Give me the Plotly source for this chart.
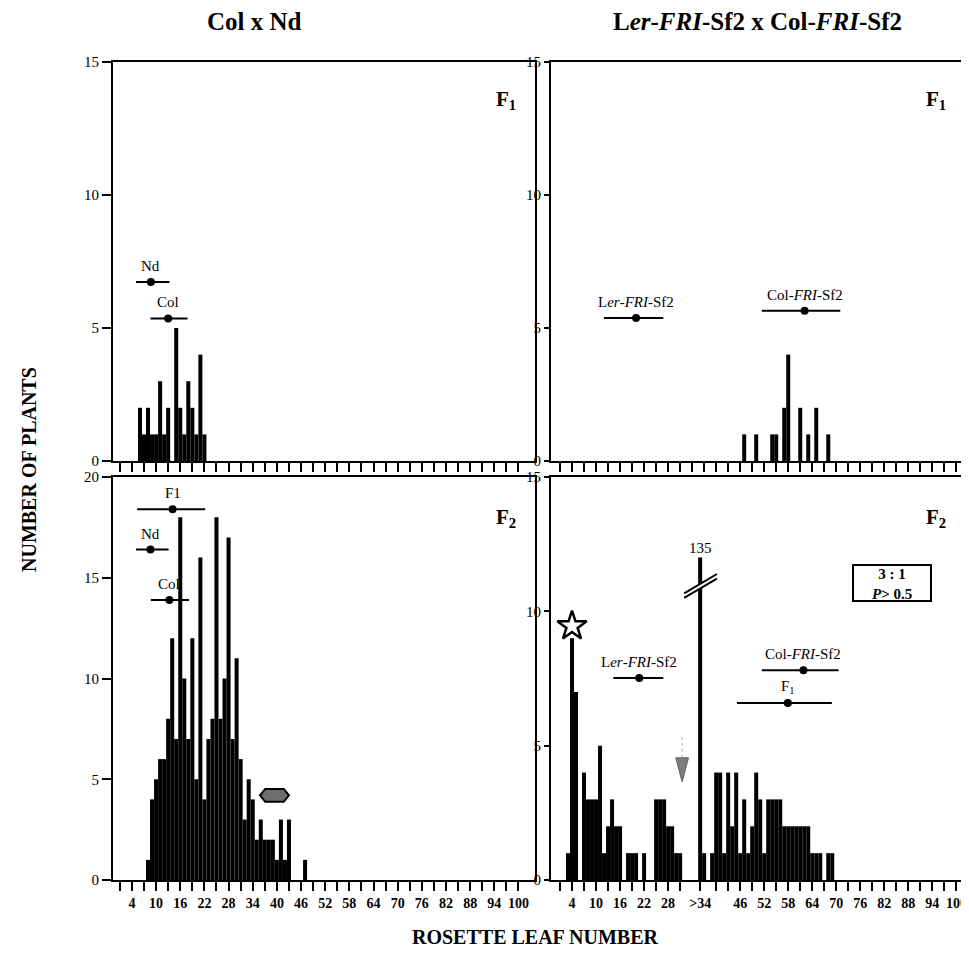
import plotly.graph_objects as go

W, H = 969, 958
OFF = 8  # page body margin in the browser
SERIF = "Liberation Serif"

# ---------------- data ----------------
# Col x Nd, F1 (top-left)
tl_leaf = list(range(6, 23))
tl_count = [2, 1, 2, 1, 1, 3, 1, 2, 0, 5, 2, 1, 3, 2, 1, 4, 1]

# Col x Nd, F2 (bottom-left)
bl_leaf = list(range(8, 48))
bl_count = [1, 4, 5, 6, 6, 8, 12, 7, 18, 10,
            7, 12, 5, 16, 4, 7, 8, 18, 8, 10,
            17, 7, 11, 6, 3, 5, 4, 2, 3, 2,
            2, 2, 1, 3, 1, 3, 0, 0, 0, 1]

# Ler-FRI-Sf2 x Col-FRI-Sf2, F1 (top-right)
tr_leaf = [47, 50, 54, 55, 57, 58, 61, 63, 65, 68]
tr_count = [1, 1, 1, 1, 2, 4, 2, 1, 2, 1]

# Ler-FRI-Sf2 x Col-FRI-Sf2, F2 (bottom-right)
br_leaf_early = list(range(3, 32))
br_count_early = [1, 9, 7, 0, 4, 3, 3, 3, 5, 1,
                  2, 3, 2, 2, 0, 1, 1, 1, 0, 1,
                  0, 0, 3, 3, 3, 2, 2, 1, 1]
br_over_label = ">34"
br_over_pos = 36
br_over_count = 135
br_axis_cap = 12
br_leaf_late = list(range(37, 70))
br_count_late = [1, 0, 1, 4, 4, 1, 4, 2, 4, 1,
                 3, 1, 2, 4, 3, 1, 3, 3, 3, 3,
                 2, 2, 2, 2, 2, 2, 2, 1, 1, 1,
                 0, 1, 1]

# parental / F1 means with ranges
tl_names = ["Nd", "Col"]
tl_mean = [8.7, 13.0]
tl_lo = [5.0, 8.6]
tl_hi = [13.3, 17.8]
tl_y = [6.73, 5.36]

bl_names = ["F1", "Nd", "Col"]
bl_mean = [14.1, 8.6, 13.3]
bl_lo = [5.3, 5.0, 8.7]
bl_hi = [22.2, 13.1, 18.2]
bl_y = [18.4, 16.4, 13.9]

tr_names = ["L<i>er</i>-<i>FRI</i>-Sf2", "Col-<i>FRI</i>-Sf2"]
tr_mean = [20.0, 62.1]
tr_lo = [12.0, 51.4]
tr_hi = [26.8, 71.0]
tr_y = [5.38, 5.65]

br_names = ["L<i>er</i>-<i>FRI</i>-Sf2", "Col-<i>FRI</i>-Sf2", "F<sub>1</sub>"]
br_mean = [20.8, 61.8, 57.9]
br_lo = [14.3, 51.4, 45.2]
br_hi = [26.8, 70.6, 68.9]
br_y = [7.52, 7.81, 6.59]

star_pos = [4, 9.45]
arrow_pos = [31.5, 4.1]
hexagon_pos = [39.4, 4.2]

ratio_text = "3 : 1"
p_text = "0.5"

# ticks: every 3 leaves, labelled every 6
ticks_all = list(range(1, 101, 3))
left_major = [t for t in ticks_all if (t - 4) % 6 == 0]
left_minor = [t for t in ticks_all if (t - 4) % 6 != 0]
left_text = [str(t) for t in left_major]

br_all = sorted([t for t in ticks_all if t not in (34, 37)] + [br_over_pos])
br_major = [t for t in br_all if ((t - 4) % 6 == 0 and t != 40) or t == br_over_pos]
br_minor = [t for t in br_all if t not in br_major]
br_text = [br_over_label if t == br_over_pos else str(t) for t in br_major]

# ---------------- layout helpers ----------------
def px_x(p):
    return (p - OFF) / W

def px_y(p):
    return 1 - (p - OFF) / H

LX = [px_x(113), px_x(535)]
RX = [px_x(551), px_x(962)]
TY = [px_y(461), px_y(62)]
BY = [px_y(880), px_y(477)]

fig = go.Figure()

def bars(x, y, ax):
    fig.add_trace(go.Bar(x=x, y=y, width=1, marker=dict(color="black", line=dict(width=0)),
                         xaxis="x" + ax, yaxis="y" + ax, hoverinfo="skip"))

def ranges(names, mean, lo, hi, yv, ax):
    fig.add_trace(go.Scatter(
        x=mean, y=yv, mode="markers", xaxis="x" + ax, yaxis="y" + ax,
        marker=dict(color="black", size=8),
        error_x=dict(type="data", symmetric=False,
                     array=[h - m for h, m in zip(hi, mean)],
                     arrayminus=[m - l for m, l in zip(mean, lo)],
                     width=0, thickness=2, color="black")))
    for n, m, y in zip(names, mean, yv):
        fig.add_annotation(x=m, y=y, xref="x" + ax, yref="y" + ax, text=n, showarrow=False,
                           xanchor="center", yanchor="middle", yshift=16,
                           font=dict(family=SERIF, size=15, color="black"))

def ptext(xp, yp, text, size, angle=0):
    fig.add_annotation(x=px_x(xp), y=px_y(yp), xref="paper", yref="paper", text=text,
                       showarrow=False, xanchor="center", yanchor="middle", textangle=angle,
                       font=dict(family=SERIF, size=size, color="black"))

bars(tl_leaf, tl_count, "")
bars(bl_leaf, bl_count, "2")
bars(tr_leaf, tr_count, "3")
bars(br_leaf_early + [br_over_pos] + br_leaf_late,
     br_count_early + [min(br_over_count, br_axis_cap)] + br_count_late, "4")

ranges(tl_names, tl_mean, tl_lo, tl_hi, tl_y, "")
ranges(bl_names, bl_mean, bl_lo, bl_hi, bl_y, "2")
ranges(tr_names, tr_mean, tr_lo, tr_hi, tr_y, "3")
ranges(br_names, br_mean, br_lo, br_hi, br_y, "4")

# star marker
fig.add_trace(go.Scatter(x=[star_pos[0]], y=[star_pos[1]], mode="markers", xaxis="x4", yaxis="y4",
                         marker=dict(symbol="star", size=22, color="white",
                                     line=dict(color="black", width=2.5))))

# grey arrow (bottom-right)
ax_, ay_ = arrow_pos
fig.add_shape(type="path", xref="x4", yref="y4",
              path=f"M {ax_-1.6},{ay_+0.45} L {ax_+1.6},{ay_+0.45} L {ax_},{ay_-0.45} Z",
              fillcolor="#7d7d7d", line=dict(color="#666666", width=1))
fig.add_shape(type="line", xref="x4", yref="y4", x0=ax_, x1=ax_, y0=ay_ + 0.45, y1=ay_ + 1.3,
              line=dict(color="#aaaaaa", width=1, dash="dot"))

# grey hexagon (bottom-left)
hx, hy = hexagon_pos
fig.add_shape(type="path", xref="x2", yref="y2",
              path=(f"M {hx-3.6},{hy} L {hx-2.3},{hy+0.32} L {hx+2.3},{hy+0.32} "
                    f"L {hx+3.6},{hy} L {hx+2.3},{hy-0.32} L {hx-2.3},{hy-0.32} Z"),
              fillcolor="#6e6e6e", line=dict(color="black", width=2))

# axis break on the >34 bar
bx0, bx1 = br_over_pos - 4.0, br_over_pos + 4.2
by0, by1, bd = 10.5, 11.22, 0.17
fig.add_shape(type="path", xref="x4", yref="y4",
              path=f"M {bx0},{by0} L {bx1},{by1} L {bx1},{by1+bd} L {bx0},{by0+bd} Z",
              fillcolor="white", line=dict(width=0))
for d in (0, bd):
    fig.add_shape(type="line", xref="x4", yref="y4", x0=bx0, y0=by0 + d, x1=bx1, y1=by1 + d,
                  line=dict(color="black", width=2))
fig.add_annotation(x=br_over_pos, y=br_axis_cap, xref="x4", yref="y4", text=str(br_over_count),
                   showarrow=False, xanchor="center", yanchor="middle", yshift=10,
                   font=dict(family=SERIF, size=15, color="black"))

# 3:1 box (single two-line text)
fig.add_shape(type="rect", xref="paper", yref="paper",
              x0=px_x(853), x1=px_x(931), y0=px_y(601), y1=px_y(565),
              line=dict(color="black", width=2), fillcolor="white")
ptext(892, 584, f"<b>{ratio_text}</b><br><b><i>P</i>&gt; {p_text}</b>", 15)

# panel labels
for xp, yp, t in [(506, 100, "F<sub>1</sub>"), (936, 100, "F<sub>1</sub>"),
                  (506, 518, "F<sub>2</sub>"), (936, 518, "F<sub>2</sub>")]:
    ptext(xp, yp, "<b>" + t + "</b>", 21)

# titles
ptext(255, 21, "<b>Col x Nd</b>", 25)
ptext(757, 21, "<b>L<i>er</i>-<i>FRI</i>-Sf2 x Col-<i>FRI</i>-Sf2</b>", 25)
ptext(535, 937, "<b>ROSETTE LEAF NUMBER</b>", 20)
ptext(29, 470, "<b>NUMBER OF PLANTS</b>", 20, angle=-90)

tick_style = dict(ticks="outside", ticklen=9, tickwidth=1.5, tickcolor="black")
common_x = dict(showgrid=False, zeroline=False, showline=True, linecolor="black", linewidth=2,
                mirror=True, automargin=False, tickangle=0, **tick_style)

def y_axis(rng, vals, domain, anchor, tlen):
    return dict(domain=domain, anchor=anchor, range=rng, tickvals=vals,
                showgrid=False, zeroline=False, showline=True, linecolor="black", linewidth=2,
                mirror=True, ticks="outside", ticklen=tlen, tickwidth=2, tickcolor="black",
                automargin=False, tickfont=dict(family=SERIF, size=15, color="black"))

xfont = dict(family=SERIF, size=14, color="black", weight="bold")
minor_style = dict(ticks="outside", ticklen=9, tickwidth=1.5, tickcolor="black", showgrid=False)

fig.update_layout(
    template="none",
    width=W, height=H, margin=dict(l=0, r=0, t=0, b=0, autoexpand=False),
    paper_bgcolor="white", plot_bgcolor="white", showlegend=False, barmode="overlay",
    xaxis=dict(domain=LX, anchor="y", range=[-0.7, 104.1], tickvals=ticks_all,
               showticklabels=False, **common_x),
    yaxis=y_axis([0, 15], [0, 5, 10, 15], TY, "x", 9),
    xaxis2=dict(domain=LX, anchor="y2", range=[-0.7, 104.1], tickvals=left_major,
                ticktext=left_text, tickfont=xfont,
                minor=dict(tickvals=left_minor, **minor_style), **common_x),
    yaxis2=y_axis([0, 20], [0, 5, 10, 15, 20], BY, "x2", 9),
    xaxis3=dict(domain=RX, anchor="y3", range=[-1.25, 101.4], tickvals=ticks_all,
                showticklabels=False, **common_x),
    yaxis3=y_axis([0, 15], [0, 5, 10, 15], TY, "x3", 5),
    xaxis4=dict(domain=RX, anchor="y4", range=[-1.25, 101.4], tickvals=br_major,
                ticktext=br_text, tickfont=xfont,
                minor=dict(tickvals=br_minor, **minor_style), **common_x),
    yaxis4=y_axis([0, 15], [0, 5, 10, 15], BY, "x4", 5),
)

fig.write_html("out.html")
